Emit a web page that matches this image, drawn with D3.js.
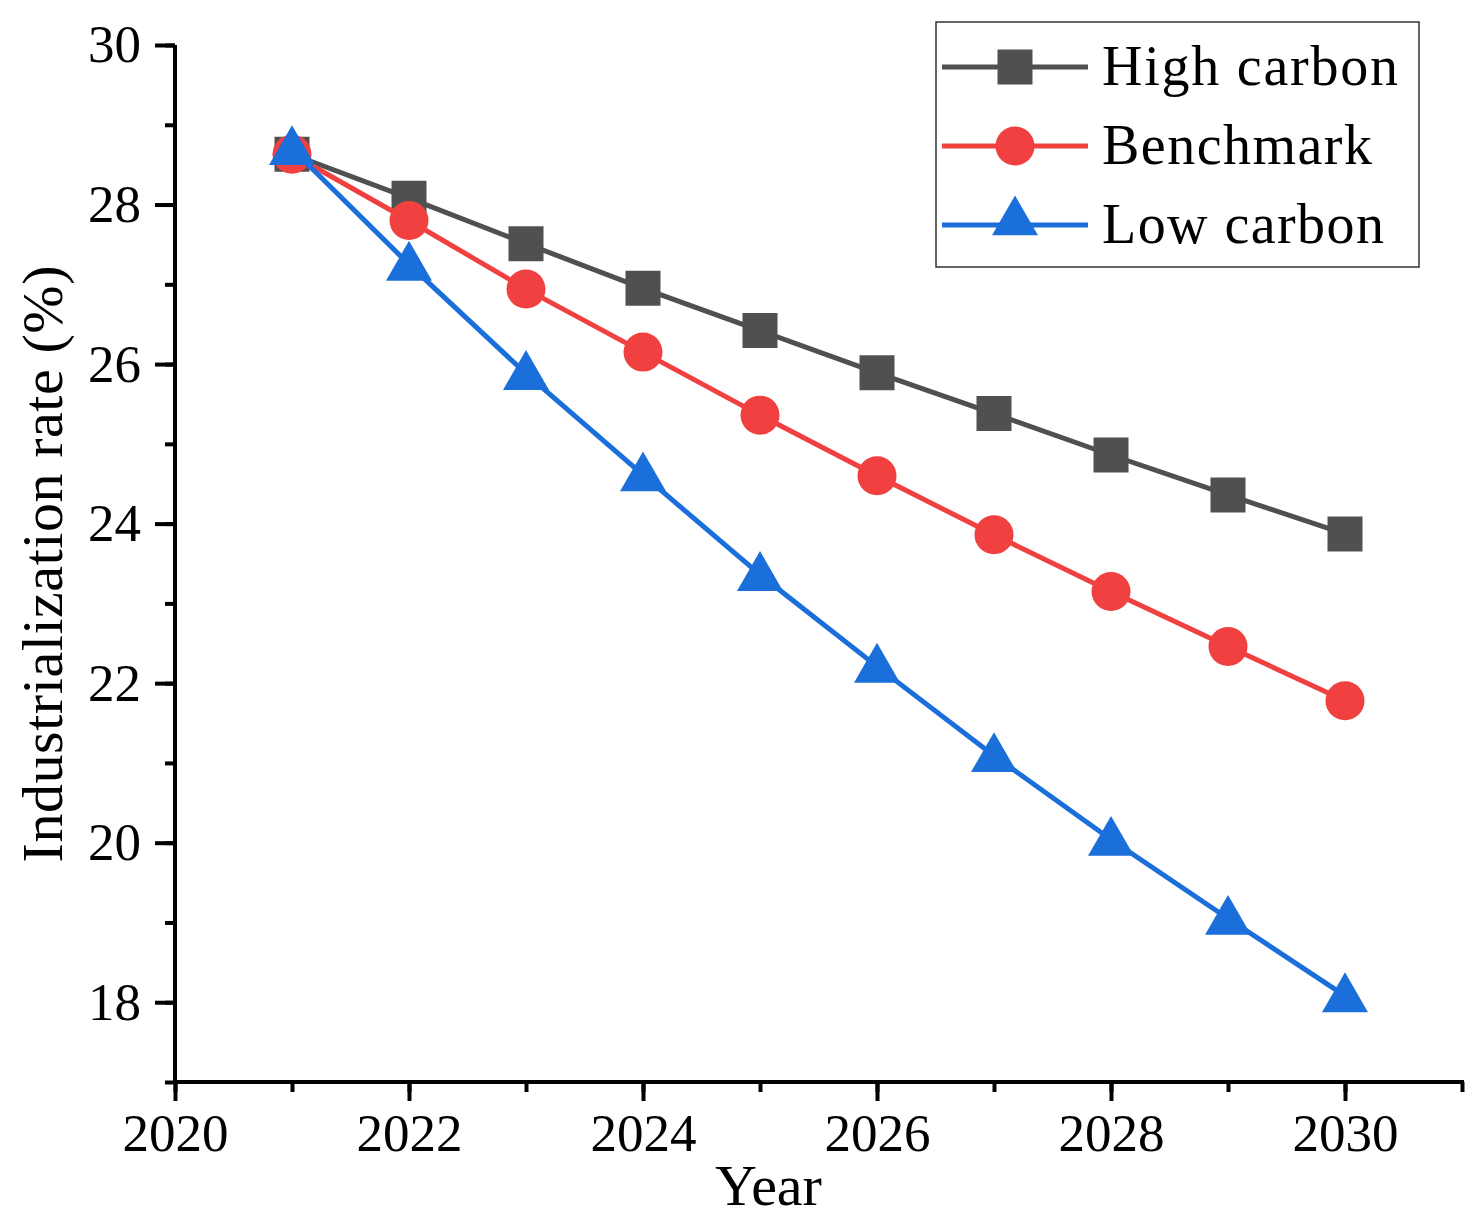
<!DOCTYPE html>
<html>
<head>
<meta charset="utf-8">
<script src="https://cdn.jsdelivr.net/npm/d3@7"></script>
<style>
  body { margin: 0; background: #fff; }
  svg { display: block; }
  text { font-family: "Liberation Serif", "Times New Roman", serif; fill: #000; }
</style>
</head>
<body>
<script>
var years = [2021, 2022, 2023, 2024, 2025, 2026, 2027, 2028, 2029, 2030];
var highCarbon = [28.63, 28.08, 27.51, 26.95, 26.42, 25.89, 25.38, 24.86, 24.36, 23.87];
var benchmark = [28.63, 27.80, 26.94, 26.15, 25.36, 24.60, 23.86, 23.15, 22.46, 21.78];
var lowCarbon = [28.70, 27.25, 25.88, 24.61, 23.36, 22.21, 21.09, 20.04, 19.05, 18.08];
var seriesNames = ['High carbon', 'Benchmark', 'Low carbon'];
var xTicks = [2020, 2022, 2024, 2026, 2028, 2030];
var yTicks = [18, 20, 22, 24, 26, 28, 30];

var width = 1484, height = 1225;
var plotLeft = 175, plotRight = 1462, plotTop = 45, plotBottom = 1082;

var series = [
    {name: seriesNames[0], values: highCarbon, color: '#505050', shape: 'square'},
    {name: seriesNames[1], values: benchmark, color: '#F04040', shape: 'circle'},
    {name: seriesNames[2], values: lowCarbon, color: '#1A6FDB', shape: 'triangle'}
];

var svg = d3.select('body').append('svg')
    .attr('width', width)
    .attr('height', height);

var x = d3.scaleLinear().domain([2020, 2031]).range([plotLeft, plotRight]);
var y = d3.scaleLinear().domain([17, 30]).range([plotBottom, plotTop]);

// minor ticks first, then major ticks with labels
svg.append('g')
    .attr('transform', 'translate(0,' + plotBottom + ')')
    .call(d3.axisBottom(x).tickValues(d3.range(2020, 2032)).tickSize(10).tickFormat(''))
    .call(function(g) { g.select('.domain').remove(); })
    .selectAll('line').attr('stroke-width', 4);

svg.append('g')
    .attr('transform', 'translate(0,' + plotBottom + ')')
    .call(d3.axisBottom(x).tickValues(xTicks).tickSize(19).tickPadding(12).tickFormat(d3.format('d')))
    .call(function(g) {
        g.select('.domain').remove();
        g.selectAll('line').attr('stroke-width', 4);
        g.selectAll('text').style('font-size', '53px').attr('fill', '#000');
    });

svg.append('g')
    .attr('transform', 'translate(' + plotLeft + ',0)')
    .call(d3.axisLeft(y).tickValues(d3.range(17, 31)).tickSize(10).tickFormat(''))
    .call(function(g) { g.select('.domain').remove(); })
    .selectAll('line').attr('stroke-width', 4);

svg.append('g')
    .attr('transform', 'translate(' + plotLeft + ',0)')
    .call(d3.axisLeft(y).tickValues(yTicks).tickSize(20).tickPadding(14).tickFormat(d3.format('d')))
    .call(function(g) {
        g.select('.domain').remove();
        g.selectAll('line').attr('stroke-width', 4);
        g.selectAll('text').style('font-size', '53px').attr('fill', '#000');
    });

// axis lines
svg.append('line')
    .attr('x1', plotLeft).attr('x2', plotRight)
    .attr('y1', plotBottom).attr('y2', plotBottom)
    .attr('stroke', '#000').attr('stroke-width', 4).attr('stroke-linecap', 'square');
svg.append('line')
    .attr('x1', plotLeft).attr('x2', plotLeft)
    .attr('y1', plotTop).attr('y2', plotBottom)
    .attr('stroke', '#000').attr('stroke-width', 4);

svg.append('text')
    .attr('x', (plotLeft + plotRight) / 2 - 50)
    .attr('y', 1205)
    .attr('text-anchor', 'middle')
    .style('font-size', '58px')
    .text('Year');

svg.append('text')
    .attr('transform', 'translate(62,' + 564 + ') rotate(-90)')
    .attr('text-anchor', 'middle')
    .style('font-size', '58px')
    .attr('textLength', 597)
    .text('Industrialization rate (%)');

var symbols = {
    square: d3.symbol().type(d3.symbolSquare).size(35 * 35),
    circle: d3.symbol().type(d3.symbolCircle).size(Math.PI * 19.5 * 19.5),
    triangle: d3.symbol().type(d3.symbolTriangle).size(46 * 46 * Math.sqrt(3) / 4)
};

var line = d3.line()
    .x(function(d) { return x(d.year); })
    .y(function(d) { return y(d.value); });

series.forEach(function(s) {
    var pts = years.map(function(yr, i) { return {year: yr, value: s.values[i]}; });
    var g = svg.append('g');
    g.append('path')
        .datum(pts)
        .attr('d', line)
        .attr('fill', 'none')
        .attr('stroke', s.color)
        .attr('stroke-width', 5);
    g.selectAll('.mark')
        .data(pts)
        .enter().append('path')
        .attr('class', 'mark')
        .attr('transform', function(d) {
            var dy = s.shape === 'triangle' ? 3 : 0;
            return 'translate(' + x(d.year) + ',' + (y(d.value) + dy) + ')';
        })
        .attr('d', symbols[s.shape]())
        .attr('fill', s.color);
});

// legend
var legend = svg.append('g');
legend.append('rect')
    .attr('x', 936).attr('y', 22)
    .attr('width', 483).attr('height', 245)
    .attr('fill', '#fff')
    .attr('stroke', '#333')
    .attr('stroke-width', 1.5);

series.forEach(function(s, i) {
    var ly = 67 + i * 79;
    legend.append('line')
        .attr('x1', 942).attr('x2', 1088)
        .attr('y1', ly).attr('y2', ly)
        .attr('stroke', s.color)
        .attr('stroke-width', 5);
    legend.append('path')
        .attr('transform', 'translate(1015,' + (ly + (s.shape === 'triangle' ? -3 : 0)) + ')')
        .attr('d', symbols[s.shape]())
        .attr('fill', s.color);
    legend.append('text')
        .attr('x', 1102)
        .attr('y', ly + 18)
        .style('font-size', '56px')
        .attr('textLength', [296, 270, 282][i])
        .text(s.name);
});
</script>
</body>
</html>
